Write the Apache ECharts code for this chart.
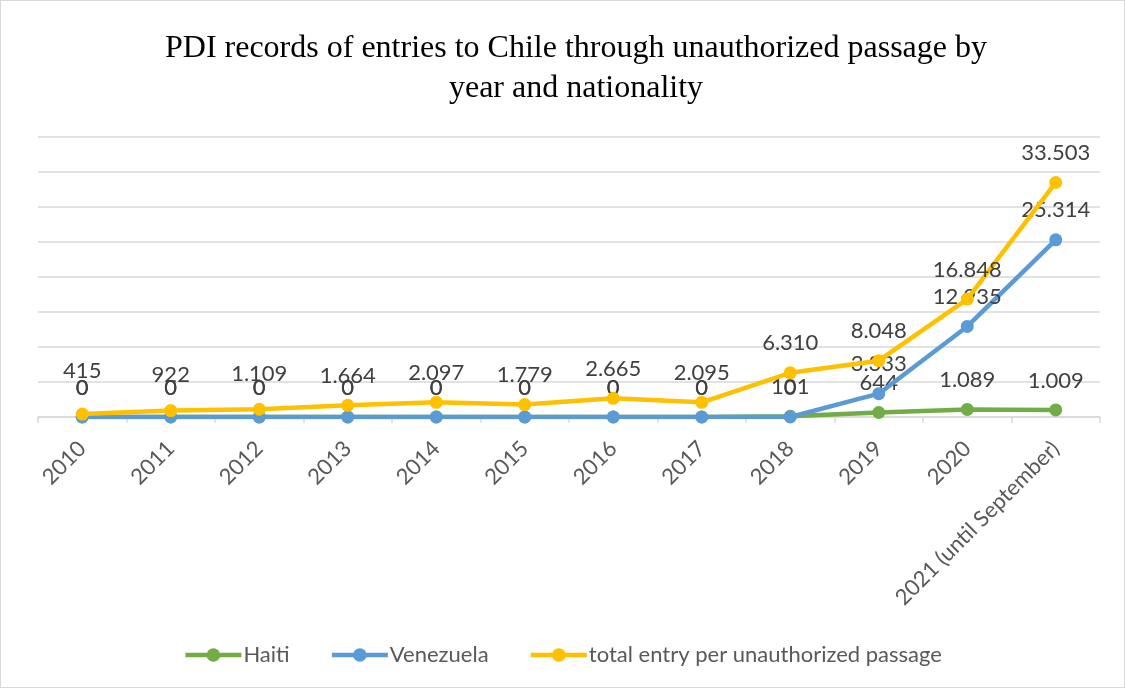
<!DOCTYPE html>
<html>
<head>
<meta charset="utf-8">
<script src="https://cdn.jsdelivr.net/npm/echarts@6/dist/echarts.min.js"></script>
<style>
  html, body { margin: 0; padding: 0; background: #fff; }
  #chart { width: 1125px; height: 688px; box-sizing: border-box; border: 1px solid #d9d9d9; }
</style>
</head>
<body>
<div id="chart"></div>
<script>
// Entries to Chile through unauthorized passage, by year and nationality
const years = ['2010', '2011', '2012', '2013', '2014', '2015', '2016', '2017', '2018', '2019', '2020', '2021 (until September)'];
const haiti = [0, 0, 0, 0, 0, 0, 0, 0, 101, 644, 1089, 1009];
const venezuela = [0, 0, 0, 0, 0, 0, 0, 0, 0, 3333, 12935, 25314];
const total = [415, 922, 1109, 1664, 2097, 1779, 2665, 2095, 6310, 8048, 16848, 33503];

const FONT = 'Lato, "Open Sans", sans-serif';

// Thousands separated with a dot
function fmt(v) {
  return String(v).replace(/\B(?=(\d{3})+(?!\d))/g, '.');
}

function lineSeries(name, values, color, z, lift) {
  return {
    name: name,
    type: 'line',
    data: values.map((v, i) => {
      const item = { value: v };
      if (lift && lift[i]) item.label = { offset: [0, -lift[i]] };
      return item;
    }),
    z: z,
    symbol: 'circle',
    symbolSize: 13,
    lineStyle: { width: 4.5, color: color },
    itemStyle: { color: color },
    label: {
      show: true,
      position: 'top',
      distance: 12,
      formatter: p => fmt(p.value),
      fontFamily: FONT,
      fontSize: 22,
      color: '#404040'
    }
  };
}

// the first total labels sit a little higher so they clear the zero labels
const totalLift = { 0: 14, 1: 6, 2: 6 };

const chart = echarts.init(document.getElementById('chart'));
chart.setOption({
  animation: false,
  backgroundColor: '#fff',
  title: {
    text: 'PDI records of entries to Chile through unauthorized passage by\nyear and nationality',
    left: 570,
    textAlign: 'center',
    top: 23,
    textStyle: {
      fontFamily: '"Liberation Serif", "DejaVu Serif", serif',
      fontSize: 32,
      fontWeight: 'normal',
      color: '#000',
      lineHeight: 40
    }
  },
  legend: {
    bottom: 16,
    left: 'center',
    itemWidth: 56,
    itemHeight: 17,
    itemGap: 40,
    textStyle: { fontFamily: FONT, fontSize: 22, color: '#595959', padding: [0, 0, 0, -3] },
    lineStyle: { width: 4.5 },
    data: ['Haiti', 'Venezuela', 'total entry per unauthorized passage']
  },
  grid: { left: 37, right: 24, top: 136, bottom: 270 },
  xAxis: {
    type: 'category',
    data: years,
    boundaryGap: true,
    axisLine: { lineStyle: { color: '#d9d9d9', width: 1.5 } },
    axisTick: { show: true, length: 6, lineStyle: { color: '#d9d9d9', width: 1.5 } },
    axisLabel: {
      rotate: 45,
      interval: 0,
      margin: 28,
      fontFamily: FONT,
      fontSize: 22,
      color: '#595959'
    }
  },
  yAxis: {
    type: 'value',
    min: 0,
    max: 40000,
    interval: 5000,
    axisLabel: { show: false },
    axisLine: { show: false },
    axisTick: { show: false },
    splitLine: { lineStyle: { color: '#d9d9d9', width: 1.5 } }
  },
  series: [
    lineSeries('Haiti', haiti, '#70AD47', 2),
    lineSeries('Venezuela', venezuela, '#5B9BD5', 3),
    lineSeries('total entry per unauthorized passage', total, '#FFC000', 4, totalLift)
  ]
});
</script>
</body>
</html>
